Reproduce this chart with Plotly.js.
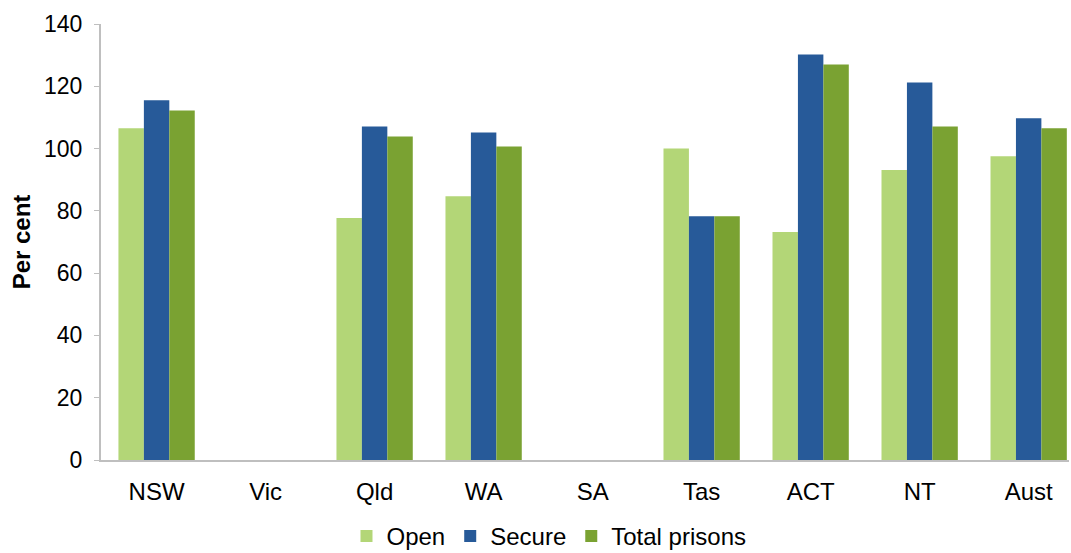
<!DOCTYPE html>
<html>
<head>
<meta charset="utf-8">
<script src="https://cdn.plot.ly/plotly-3.0.1.min.js"></script>
<style>
  html, body { margin: 0; padding: 0; background: #ffffff; }
  #chart { width: 1071px; height: 553px; }
</style>
</head>
<body>
<div id="chart"></div>
<script>
// Prison utilisation by jurisdiction, per cent
const jurisdictions = ["NSW", "Vic", "Qld", "WA", "SA", "Tas", "ACT", "NT", "Aust"];
const openPrisons   = [106.5, null, 77.7, 84.7, null, 100.0, 73.2, 93.1, 97.5];
const securePrisons = [115.5, null, 107.1, 105.2, null, 78.3, 130.2, 121.2, 109.7];
const totalPrisons  = [112.2, null, 103.9, 100.7, null, 78.3, 127.0, 107.1, 106.5];
const yTicks = [0, 20, 40, 60, 80, 100, 120, 140];

const font = "Liberation Sans, Arial, sans-serif";

function barTrace(name, values, color) {
  return {
    type: "bar",
    name: name,
    x: jurisdictions,
    y: values,
    marker: { color: color, line: { width: 0 } },
    hoverinfo: "x+y+name"
  };
}

const data = [
  barTrace("Open", openPrisons, "#b3d677"),
  barTrace("Secure", securePrisons, "#275a99"),
  barTrace("Total prisons", totalPrisons, "#7aa232")
];

const layout = {
  width: 1071,
  height: 553,
  margin: { l: 101, r: 2, t: 24, b: 93, autoexpand: false },
  paper_bgcolor: "#ffffff",
  plot_bgcolor: "#ffffff",
  font: { family: font, size: 24, color: "#000000" },
  barmode: "group",
  bargap: 0.30,
  bargroupgap: 0,
  showlegend: true,
  legend: {
    orientation: "h",
    xref: "container",
    yref: "container",
    x: 0.5126,
    xanchor: "center",
    y: 0.03,
    yanchor: "middle",
    font: { family: font, size: 24, color: "#000000" },
    itemwidth: 30,
    traceorder: "normal"
  },
  xaxis: {
    type: "category",
    range: [-0.51, 8.37],
    showline: true,
    linecolor: "#bfbfbf",
    linewidth: 2,
    ticks: "",
    showgrid: false,
    zeroline: false,
    tickfont: { family: font, size: 24, color: "#000000" },
    ticklabelstandoff: 9,
    automargin: false
  },
  yaxis: {
    range: [0, 140],
    tickvals: yTicks,
    ticktext: yTicks.map(String),
    showline: true,
    linecolor: "#bfbfbf",
    linewidth: 2,
    ticks: "outside",
    ticklen: 5,
    tickcolor: "#bfbfbf",
    tickwidth: 1,
    showgrid: false,
    zeroline: false,
    tickfont: { family: font, size: 23, color: "#000000" },
    ticklabelstandoff: 7,
    title: {
      text: "<b>Per cent</b>",
      font: { family: font, size: 24, color: "#000000" },
      standoff: 7
    },
    automargin: false
  }
};

Plotly.newPlot("chart", data, layout, { displayModeBar: false, staticPlot: true });
</script>
</body>
</html>
